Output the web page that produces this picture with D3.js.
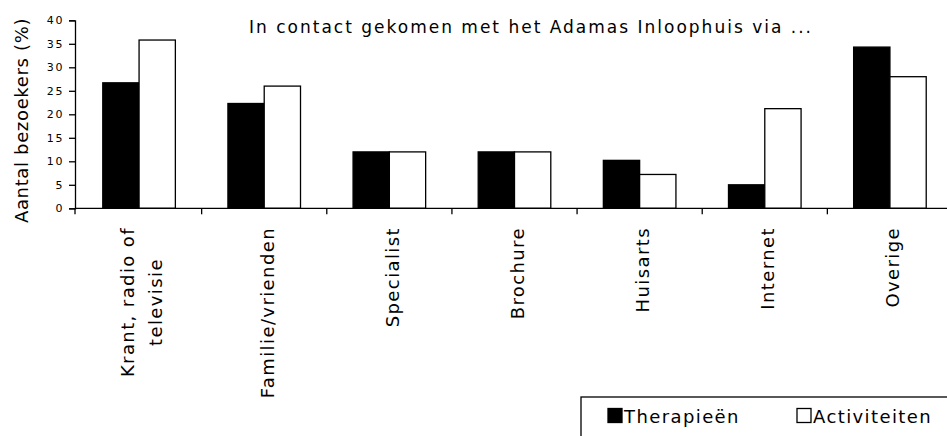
<!DOCTYPE html>
<html>
<head>
<meta charset="utf-8">
<script src="https://cdn.jsdelivr.net/npm/d3@7"></script>
<style>
  body { margin: 0; background: #fff; }
  svg { display: block; font-family: "DejaVu Sans", Verdana, sans-serif; }
</style>
</head>
<body>
<script>
// data
const categories = ['Krant, radio of\ntelevisie', 'Familie/vrienden', 'Specialist', 'Brochure', 'Huisarts', 'Internet', 'Overige'];
const series = ['Therapieën', 'Activiteiten'];
const therapieen = [26.7, 22.3, 12, 12, 10.2, 5, 34.3];
const activiteiten = [35.8, 26, 12, 12, 7.2, 21.2, 28];
const yTicks = [0, 5, 10, 15, 20, 25, 30, 35, 40];
const fills = ['#000', '#fff'];

function draw() {
    const width = 947;
    const height = 436;

    const svg = d3.select('body').append('svg')
        .attr('width', width)
        .attr('height', height);

    const X = d3.scaleBand()
        .domain(categories)
        .range([76.5, 952.5])

    const X1 = d3.scaleBand()
        .domain(series)
        .range([X.bandwidth() * 0.21, X.bandwidth() * 0.79])

    const Y = d3.scaleLinear()
        .domain([0, 40])
        .range([208.3, 20.3])

    const rows = categories.map((c, i) => ({ cat: c, values: [therapieen[i], activiteiten[i]] }));

    // bars
    svg.append('g').selectAll('g')
        .data(rows)
        .join('g')
        .attr('transform', d => `translate(${X(d.cat)},0)`)
        .selectAll('rect')
        .data(d => d.values.map((v, j) => ({ s: series[j], v, j })))
        .join('rect')
        .attr('x', d => X1(d.s))
        .attr('y', d => Y(d.v))
        .attr('width', X1.bandwidth())
        .attr('height', d => Y(0) - Y(d.v))
        .attr('fill', d => fills[d.j])
        .attr('stroke', '#000')
        .attr('stroke-width', 1.3)

    // y axis
    const y_axis = d3.axisLeft(Y)
        .tickValues(yTicks)
        .tickSize(6)
        .tickPadding(5)

    svg.append('g')
        .attr('transform', 'translate(75 0)')
        .call(y_axis)
        .call(g => g.select('.domain').attr('stroke-width', 1.3))
        .call(g => g.selectAll('.tick line').attr('stroke-width', 1.3))
        .call(g => g.selectAll('.tick text')
            .attr('font-size', 11)
            .attr('letter-spacing', 1.6)
            .attr('fill', '#000')
            .attr('font-family', '"DejaVu Sans", sans-serif'))

    // x axis line with ticks at category boundaries
    const bounds = categories.map(c => X(c)).concat([X(categories[categories.length - 1]) + X.bandwidth()]);
    svg.append('line')
        .attr('x1', 75).attr('x2', width)
        .attr('y1', Y(0)).attr('y2', Y(0))
        .attr('stroke', '#000').attr('stroke-width', 1.3)
    svg.append('g').selectAll('line')
        .data(bounds.slice(1))
        .join('line')
        .attr('x1', d => d).attr('x2', d => d)
        .attr('y1', Y(0)).attr('y2', Y(0) + 6)
        .attr('stroke', '#000').attr('stroke-width', 1.3)
    svg.append('line')
        .attr('x1', 75).attr('x2', 75)
        .attr('y1', Y(0)).attr('y2', Y(0) + 6)
        .attr('stroke', '#000').attr('stroke-width', 1.3)

    // category labels, rotated
    const labelTop = 227;
    const lineGap = 28;
    categories.forEach(c => {
        const lines = c.split('\n');
        const cx = X(c) + X.bandwidth() / 2 + 3;
        const g = svg.append('g')
            .attr('transform', `translate(${cx},${labelTop}) rotate(-90)`);
        const texts = lines.map((t, i) => g.append('text')
            .attr('text-anchor', 'middle')
            .attr('font-size', 18)
            .attr('letter-spacing', 1.4)
            .attr('dy', '0.35em')
            .attr('y', (i - (lines.length - 1) / 2) * lineGap)
            .text(t));
        const maxLen = d3.max(texts, t => t.node().getComputedTextLength());
        texts.forEach(t => t.attr('x', -maxLen / 2));
    });

    // y axis title
    svg.append('text')
        .attr('transform', 'translate(22 120.5) rotate(-90)')
        .attr('text-anchor', 'middle')
        .attr('dy', '0.35em')
        .attr('font-size', 18)
        .attr('letter-spacing', 0.65)
        .text('Aantal bezoekers (%)')

    // title
    svg.append('text')
        .attr('x', 531)
        .attr('y', 33)
        .attr('text-anchor', 'middle')
        .attr('font-size', 17)
        .attr('letter-spacing', 2)
        .text('In contact gekomen met het Adamas Inloophuis via ...')

    // legend
    const legend = svg.append('g');
    legend.append('rect')
        .attr('x', 581).attr('y', 397)
        .attr('width', 400).attr('height', 80)
        .attr('fill', '#fff').attr('stroke', '#000').attr('stroke-width', 1.3)
    const legendX = [608, 797];
    series.forEach((s, i) => {
        legend.append('rect')
            .attr('x', legendX[i]).attr('y', 408.5)
            .attr('width', 14).attr('height', 14)
            .attr('fill', fills[i]).attr('stroke', '#000').attr('stroke-width', 1.3)
        legend.append('text')
            .attr('x', legendX[i] + 16).attr('y', 423)
            .attr('font-size', 18)
            .attr('letter-spacing', 1.4)
            .text(s)
    });
}

draw();
</script>
</body>
</html>
